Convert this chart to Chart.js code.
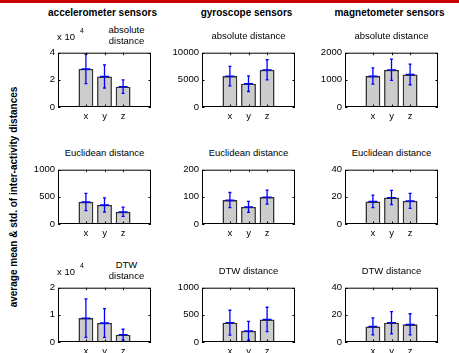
<!DOCTYPE html>
<html>
<head>
<meta charset="utf-8">
<script src="https://cdn.jsdelivr.net/npm/chart.js@4"></script>
<style>
  body { margin: 0; background: #fff; width: 459px; height: 353px; overflow: hidden; position: relative; font-family: 'Liberation Sans', Arial, sans-serif; }
  #topbar { position: absolute; left: 0; top: 0; width: 459px; height: 3px; background: #c80000; }
  .txt { position: absolute; white-space: nowrap; line-height: 1; color: #000; transform: translate(-50%, -50%); }
  .head { font-weight: bold; font-size: 10px; }
  .sub { font-size: 9.5px; }
  .expo { position: absolute; white-space: nowrap; line-height: 1; font-size: 9.5px; transform: translateY(-50%); }
  .sup { position: absolute; line-height: 1; font-size: 7px; transform: translateY(-50%); }
  #ylab { position: absolute; left: 14px; top: 197px; font-weight: bold; font-size: 10px; white-space: nowrap; line-height: 1; transform: translate(-50%, -50%) rotate(-90deg); }
  canvas { position: absolute; }
</style>
</head>
<body>
<div id="topbar"></div>
<div id="ylab">average mean &amp; std. of inter-activity distances</div>

<script>
// categories and titles
const categories = ['x', 'y', 'z'];
const sensorTitles = ['accelerometer sensors', 'gyroscope sensors', 'magnetometer sensors'];
const metricTitles = ['absolute distance', 'Euclidean distance', 'DTW distance'];

// absolute distance (mean, std) per sensor
const absAccMean = [28000, 22500, 15000];
const absAccStd = [10800, 8500, 5000];
const absGyrMean = [5700, 4300, 6850];
const absGyrStd = [1800, 1450, 1850];
const absMagMean = [1140, 1370, 1200];
const absMagStd = [300, 390, 380];

// Euclidean distance
const eucAccMean = [405, 350, 225];
const eucAccStd = [160, 130, 85];
const eucGyrMean = [88, 63, 99];
const eucGyrStd = [28, 20, 26];
const eucMagMean = [16.6, 19.5, 17];
const eucMagStd = [4.6, 5.2, 5.5];

// DTW distance
const dtwAccMean = [8800, 7000, 2700];
const dtwAccStd = [7100, 5300, 2000];
const dtwGyrMean = [355, 205, 415];
const dtwGyrStd = [230, 175, 225];
const dtwMagMean = [11.5, 14.2, 13];
const dtwMagStd = [6.3, 8.2, 7.8];

// y axis upper limits, one per row (acc, gyro, mag)
const absMax = [40000, 10000, 2000];
const eucMax = [1000, 200, 40];
const dtwMax = [20000, 1000, 40];

// scale exponent shown as "x 10^n" (0 = none)
const absExp = [4, 0, 0];
const eucExp = [0, 0, 0];
const dtwExp = [4, 0, 0];

const rows = [
  { means: [absAccMean, absGyrMean, absMagMean], stds: [absAccStd, absGyrStd, absMagStd], max: absMax, exp: absExp },
  { means: [eucAccMean, eucGyrMean, eucMagMean], stds: [eucAccStd, eucGyrStd, eucMagStd], max: eucMax, exp: eucExp },
  { means: [dtwAccMean, dtwGyrMean, dtwMagMean], stds: [dtwAccStd, dtwGyrStd, dtwMagStd], max: dtwMax, exp: dtwExp }
];

// layout of the axes boxes
const colLeft = [58, 202, 345];
const rowTop = [47, 164, 282];
const axW = 93, axH = 60;
const padL = 34, padT = 3, padR = 4, padB = 16;

Chart.defaults.font.family = "'Liberation Sans', Arial, sans-serif";
Chart.defaults.font.size = 9.5;
Chart.defaults.color = '#000';

// frame, inward ticks and error bars
const matlabAxes = {
  id: 'matlabAxes',
  afterDatasetsDraw(chart, args, opts) {
    const ctx = chart.ctx;
    const { left, top, right, bottom } = chart.chartArea;
    const xs = chart.scales.x, ys = chart.scales.y;
    ctx.save();

    // error bars with '+' marker at the mean
    ctx.strokeStyle = '#0000ff';
    ctx.lineWidth = 1.3;
    opts.means.forEach((m, i) => {
      const cx = xs.getPixelForValue(i + 1);
      const yHi = ys.getPixelForValue(m + opts.stds[i]);
      const yLo = ys.getPixelForValue(Math.max(m - opts.stds[i], 0));
      const yM = ys.getPixelForValue(m);
      ctx.beginPath();
      ctx.moveTo(cx, yHi); ctx.lineTo(cx, yLo);
      ctx.moveTo(cx - 1.5, yHi); ctx.lineTo(cx + 1.5, yHi);
      ctx.moveTo(cx - 1.5, yLo); ctx.lineTo(cx + 1.5, yLo);
      ctx.moveTo(cx - 4.5, yM); ctx.lineTo(cx + 4.5, yM);
      ctx.stroke();
    });

    // box
    ctx.strokeStyle = '#000';
    ctx.lineWidth = 1;
    ctx.strokeRect(left + 0.5, top + 0.5, right - left - 1, bottom - top - 1);

    // inward tick marks
    ctx.beginPath();
    ys.ticks.forEach(t => {
      const py = Math.round(ys.getPixelForValue(t.value)) + 0.5;
      ctx.moveTo(left, py); ctx.lineTo(left + 2.5, py);
      ctx.moveTo(right, py); ctx.lineTo(right - 2.5, py);
    });
    categories.forEach((c, i) => {
      const px = Math.round(xs.getPixelForValue(i + 1)) + 0.5;
      ctx.moveTo(px, bottom); ctx.lineTo(px, bottom - 2.5);
      ctx.moveTo(px, top); ctx.lineTo(px, top + 2.5);
    });
    ctx.stroke();
    ctx.restore();
  }
};

function addText(cls, text, x, y) {
  const d = document.createElement('div');
  d.className = cls;
  d.textContent = text;
  d.style.left = x + 'px';
  d.style.top = y + 'px';
  document.body.appendChild(d);
  return d;
}

// column headers
sensorTitles.forEach((t, c) => addText('txt head', t, colLeft[c] + axW / 2 - 2, 13));

rows.forEach((row, r) => {
  for (let c = 0; c < 3; c++) {
    const canvas = document.createElement('canvas');
    const w = padL + axW + padR, h = padT + axH + padB;
    canvas.width = w; canvas.height = h;
    canvas.style.width = w + 'px'; canvas.style.height = h + 'px';
    canvas.style.left = (colLeft[c] - padL) + 'px';
    canvas.style.top = (rowTop[r] - padT) + 'px';
    document.body.appendChild(canvas);

    const means = row.means[c];
    const stds = row.stds[c];
    const yMax = row.max[c];
    const div = Math.pow(10, row.exp[c]);

    new Chart(canvas.getContext('2d'), {
      type: 'bar',
      data: {
        datasets: [{
          data: means.map((m, i) => ({ x: i + 1, y: m })),
          backgroundColor: '#cccccc',
          borderColor: '#333333',
          borderWidth: 1.6,
          barPercentage: 0.8,
          categoryPercentage: 1
        }]
      },
      options: {
        responsive: false,
        animation: false,
        layout: { padding: { top: padT, right: padR, left: 0, bottom: 0 } },
        plugins: {
          legend: { display: false },
          tooltip: { enabled: false },
          matlabAxes: { means: means, stds: stds }
        },
        scales: {
          x: {
            type: 'linear',
            min: 0,
            max: 4,
            grid: { display: false, drawTicks: false },
            border: { display: false },
            ticks: {
              stepSize: 1,
              autoSkip: false,
              maxRotation: 0,
              padding: 4,
              callback: v => categories[v - 1] || ''
            },
            afterFit: s => { s.height = padB; }
          },
          y: {
            min: 0,
            max: yMax,
            grid: { display: false, drawTicks: false },
            border: { display: false },
            ticks: {
              stepSize: yMax / 2,
              padding: 3,
              callback: v => String(v / div)
            },
            afterFit: s => { s.width = padL; }
          }
        }
      },
      plugins: [matlabAxes]
    });

    // subplot titles
    const cx = colLeft[c] + axW / 2;
    if (row.exp[c]) {
      const words = metricTitles[r].split(' ');
      addText('txt sub', words[0], cx + 22, rowTop[r] - 17);
      addText('txt sub', words[1], cx + 22, rowTop[r] - 6);
      addText('expo', 'x 10', colLeft[c] - 1, rowTop[r] - 10);
      addText('sup', String(row.exp[c]), colLeft[c] + 22, rowTop[r] - 17);
    } else {
      addText('txt sub', metricTitles[r], cx, rowTop[r] - 11);
    }
  }
});
</script>
</body>
</html>
